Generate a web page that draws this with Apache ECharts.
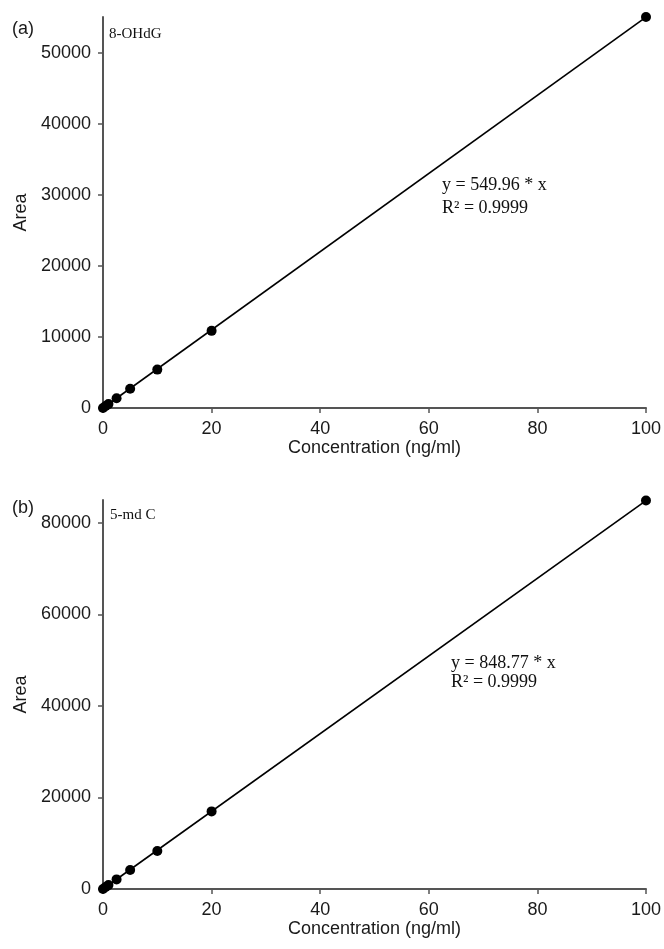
<!DOCTYPE html>
<html>
<head>
<meta charset="utf-8">
<script src="https://cdn.jsdelivr.net/npm/echarts@6/dist/echarts.min.js"></script>
<style>html,body{margin:0;padding:0;background:#fff}#c{width:664px;height:949px}</style>
</head>
<body>
<div id="c"></div>
<script>
// Data
const concentrations = [0, 0.5, 1, 2.5, 5, 10, 20, 100];
const areaA = [0, 275, 550, 1360, 2700, 5400, 10850, 55000];
const areaB = [0, 424, 849, 2100, 4150, 8300, 16960, 84900];
const slopeA = 549.96;
const slopeB = 848.77;
const xTicks = [0, 20, 40, 60, 80, 100];
const yTicksA = [0, 10000, 20000, 30000, 40000, 50000];
const yTicksB = [0, 20000, 40000, 60000, 80000];
const labelA = '8-OHdG';
const labelB = '5-md C';
const eqA = 'y = 549.96 * x';
const eqB = 'y = 848.77 * x';
const r2Text = 'R² = 0.9999';

const sans = 'Liberation Sans, Arial, sans-serif';
const serif = 'Liberation Serif, Times New Roman, serif';
const axisColor = '#555';
const textColor = '#1a1a1a';

function xAxis(gi) {
  return {
    type: 'value', gridIndex: gi, min: 0, max: 100, interval: 20,
    name: 'Concentration (ng/ml)', nameLocation: 'middle', nameGap: 29,
    nameTextStyle: { fontFamily: sans, fontSize: 18, color: textColor },
    axisLine: { show: true, onZero: false, lineStyle: { color: axisColor, width: 2 } },
    axisTick: { show: true, inside: false, length: 5, customValues: xTicks, lineStyle: { color: axisColor, width: 1.5 } },
    axisLabel: { fontFamily: sans, fontSize: 18, color: textColor, margin: 12, customValues: xTicks, formatter: v => String(v) },
    splitLine: { show: false }
  };
}
function yAxis(gi, max, ticks) {
  return {
    type: 'value', gridIndex: gi, min: 0, max: max,
    name: 'Area', nameLocation: 'middle', nameGap: 73,
    nameTextStyle: { fontFamily: sans, fontSize: 18, color: textColor },
    axisLine: { show: true, lineStyle: { color: axisColor, width: 2 } },
    axisTick: { show: true, inside: false, length: 5, customValues: ticks, lineStyle: { color: axisColor, width: 1.5 } },
    axisLabel: { fontFamily: sans, fontSize: 18, color: textColor, margin: 12, customValues: ticks, formatter: v => String(v) },
    splitLine: { show: false }
  };
}
function pts(xs, ys) { return xs.map((x, i) => [x, ys[i]]); }

const chart = echarts.init(document.getElementById('c'), null, { renderer: 'canvas' });
chart.setOption({
  backgroundColor: '#fff',
  animation: false,
  grid: [
    { left: 103, width: 545, top: 17, height: 391 },
    { left: 103, width: 545, top: 500, height: 389 }
  ],
  xAxis: [xAxis(0), xAxis(1)],
  yAxis: [yAxis(0, 55000, yTicksA), yAxis(1, 85000, yTicksB)],
  series: [
    { type: 'line', xAxisIndex: 0, yAxisIndex: 0, data: [[0, 0], [100, slopeA * 100]], showSymbol: false, lineStyle: { color: '#000', width: 1.6 }, silent: true },
    { type: 'scatter', xAxisIndex: 0, yAxisIndex: 0, data: pts(concentrations, areaA), symbolSize: 10, itemStyle: { color: '#000', opacity: 1 }, clip: false },
    { type: 'line', xAxisIndex: 1, yAxisIndex: 1, data: [[0, 0], [100, slopeB * 100]], showSymbol: false, lineStyle: { color: '#000', width: 1.6 }, silent: true },
    { type: 'scatter', xAxisIndex: 1, yAxisIndex: 1, data: pts(concentrations, areaB), symbolSize: 10, itemStyle: { color: '#000', opacity: 1 }, clip: false }
  ],
  graphic: [
    { type: 'text', left: 12, top: 20, style: { text: '(a)', font: '18px ' + sans, fill: textColor } },
    { type: 'text', left: 109, top: 27, style: { text: labelA, font: '15px ' + serif, fill: '#111' } },
    { type: 'text', left: 442, top: 176, style: { text: eqA, font: '18px ' + serif, fill: '#111' } },
    { type: 'text', left: 442, top: 199, style: { text: r2Text, font: '18px ' + serif, fill: '#111' } },
    { type: 'text', left: 12, top: 499, style: { text: '(b)', font: '18px ' + sans, fill: textColor } },
    { type: 'text', left: 110, top: 508, style: { text: labelB, font: '15px ' + serif, fill: '#111' } },
    { type: 'text', left: 451, top: 654, style: { text: eqB, font: '18px ' + serif, fill: '#111' } },
    { type: 'text', left: 451, top: 673, style: { text: r2Text, font: '18px ' + serif, fill: '#111' } }
  ]
});
</script>
</body>
</html>
